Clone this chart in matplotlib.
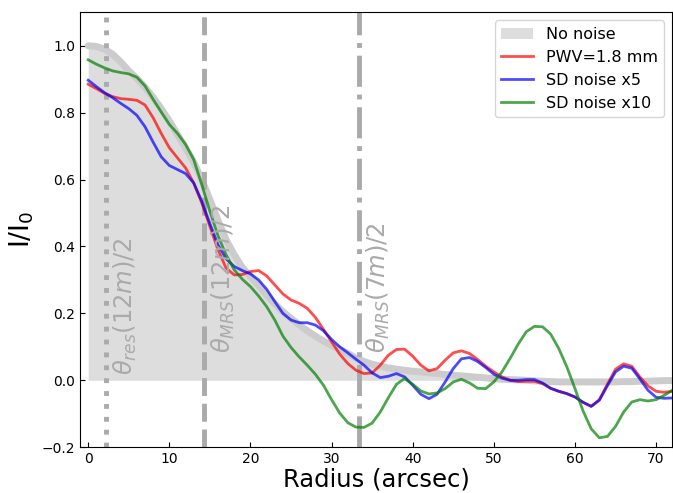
import numpy as np
import matplotlib
matplotlib.use("Agg")
import matplotlib.pyplot as plt

# Radial profiles, sampled every arcsec from 0 to 72.
radius = np.arange(0, 73)

no_noise = [1.000, 0.998, 0.990, 0.975, 0.952, 0.925, 0.902, 0.876, 0.846, 0.812,
            0.775, 0.735, 0.695, 0.652, 0.600, 0.540, 0.478, 0.420, 0.375, 0.337,
            0.310, 0.283, 0.255, 0.228, 0.205, 0.185, 0.166, 0.148, 0.132, 0.117,
            0.104, 0.092, 0.080, 0.066, 0.056, 0.048, 0.042, 0.037, 0.033, 0.030,
            0.027, 0.025, 0.022, 0.020, 0.017, 0.015, 0.013, 0.011, 0.009, 0.007,
            0.005, 0.003, 0.002, 0.001, 0.000, -0.002, -0.003, -0.004, -0.005, -0.005,
            -0.005, -0.005, -0.005, -0.005, -0.005, -0.005, -0.004, -0.004, -0.003, -0.003,
            -0.002, -0.001, -0.001]

pwv = [0.885, 0.872, 0.858, 0.848, 0.842, 0.840, 0.837, 0.823, 0.785, 0.738,
       0.695, 0.665, 0.635, 0.590, 0.530, 0.460, 0.390, 0.335, 0.315, 0.316,
       0.325, 0.328, 0.312, 0.285, 0.258, 0.240, 0.230, 0.215, 0.188, 0.152,
       0.115, 0.078, 0.050, 0.030, 0.020, 0.022, 0.045, 0.075, 0.092, 0.093,
       0.072, 0.045, 0.028, 0.035, 0.060, 0.082, 0.088, 0.080, 0.062, 0.042,
       0.025, 0.010, 0.000, -0.004, -0.003, -0.003, -0.010, -0.024, -0.033, -0.040,
       -0.050, -0.066, -0.078, -0.058, -0.012, 0.033, 0.049, 0.042, 0.010, -0.017,
       -0.033, -0.036, -0.033]

sd_x5 = [0.897, 0.878, 0.860, 0.845, 0.828, 0.812, 0.792, 0.758, 0.712, 0.668,
         0.642, 0.630, 0.618, 0.590, 0.535, 0.468, 0.405, 0.363, 0.340, 0.328,
         0.318, 0.300, 0.272, 0.235, 0.200, 0.180, 0.172, 0.172, 0.165, 0.148,
         0.122, 0.100, 0.082, 0.063, 0.045, 0.022, 0.008, 0.012, 0.020, 0.010,
         -0.015, -0.042, -0.055, -0.042, -0.005, 0.035, 0.064, 0.068, 0.056, 0.038,
         0.018, 0.006, 0.000, 0.000, 0.002, 0.002, -0.008, -0.024, -0.033, -0.040,
         -0.050, -0.066, -0.078, -0.060, -0.016, 0.025, 0.042, 0.036, 0.004, -0.030,
         -0.051, -0.054, -0.053]

sd_x10 = [0.958, 0.945, 0.934, 0.925, 0.920, 0.916, 0.906, 0.880, 0.840, 0.802,
          0.765, 0.738, 0.705, 0.660, 0.585, 0.505, 0.432, 0.375, 0.330, 0.302,
          0.280, 0.252, 0.220, 0.180, 0.132, 0.098, 0.070, 0.045, 0.018, -0.015,
          -0.058, -0.098, -0.127, -0.140, -0.141, -0.128, -0.095, -0.052, -0.012, 0.005,
          -0.012, -0.032, -0.041, -0.038, -0.025, -0.005, 0.003, -0.008, -0.024, -0.025,
          -0.005, 0.025, 0.065, 0.108, 0.145, 0.161, 0.160, 0.138, 0.095, 0.040,
          -0.025, -0.092, -0.145, -0.172, -0.168, -0.138, -0.095, -0.065, -0.058, -0.062,
          -0.058, -0.045, -0.030]

# Characteristic scales (arcsec) and their labels
scale_pos = [2.2, 14.3, 33.35]
scale_styles = [":", "--", "-."]
scale_labels = [r"$\theta_{res}(12m)/2$", r"$\theta_{MRS}(12m)/2$", r"$\theta_{MRS}(7m)/2$"]
scale_text_y = [0.015, 0.08, 0.08]

fig = plt.figure(figsize=(6.73, 4.93), dpi=100)
ax = fig.add_axes([0.119, 0.093, 0.88, 0.882])

ax.fill_between(radius, 0, no_noise, color="#dddddd", lw=0, label="No noise")
ax.plot(radius, no_noise, color="#cccccc", lw=5, solid_capstyle="round")

for x, ls, lab, ty in zip(scale_pos, scale_styles, scale_labels, scale_text_y):
    ax.axvline(x, color="#aaaaaa", ls=ls, lw=3.5)
    ax.text(x + 0.7, ty, lab, rotation=90, ha="left", va="bottom",
            fontsize=17.5, color="#aaaaaa")

ax.plot(radius, pwv, color="r", alpha=0.7, lw=2, label="PWV=1.8 mm")
ax.plot(radius, sd_x5, color="b", alpha=0.7, lw=2, label="SD noise x5")
ax.plot(radius, sd_x10, color="g", alpha=0.7, lw=2, label="SD noise x10")

ax.set_xlim(-1, 72)
ax.set_ylim(-0.2, 1.1)
ax.set_xticks(np.arange(0, 71, 10))
ax.set_yticks(np.arange(-0.2, 1.01, 0.2))
ax.tick_params(direction="in", labelsize=10)
ax.set_xlabel("Radius (arcsec)", fontsize=17.5, labelpad=1)
ax.set_ylabel(r"I/I$_0$", fontsize=19)
ax.legend(loc="upper right", fontsize=11.5)

fig.savefig("out.png", dpi=100)
